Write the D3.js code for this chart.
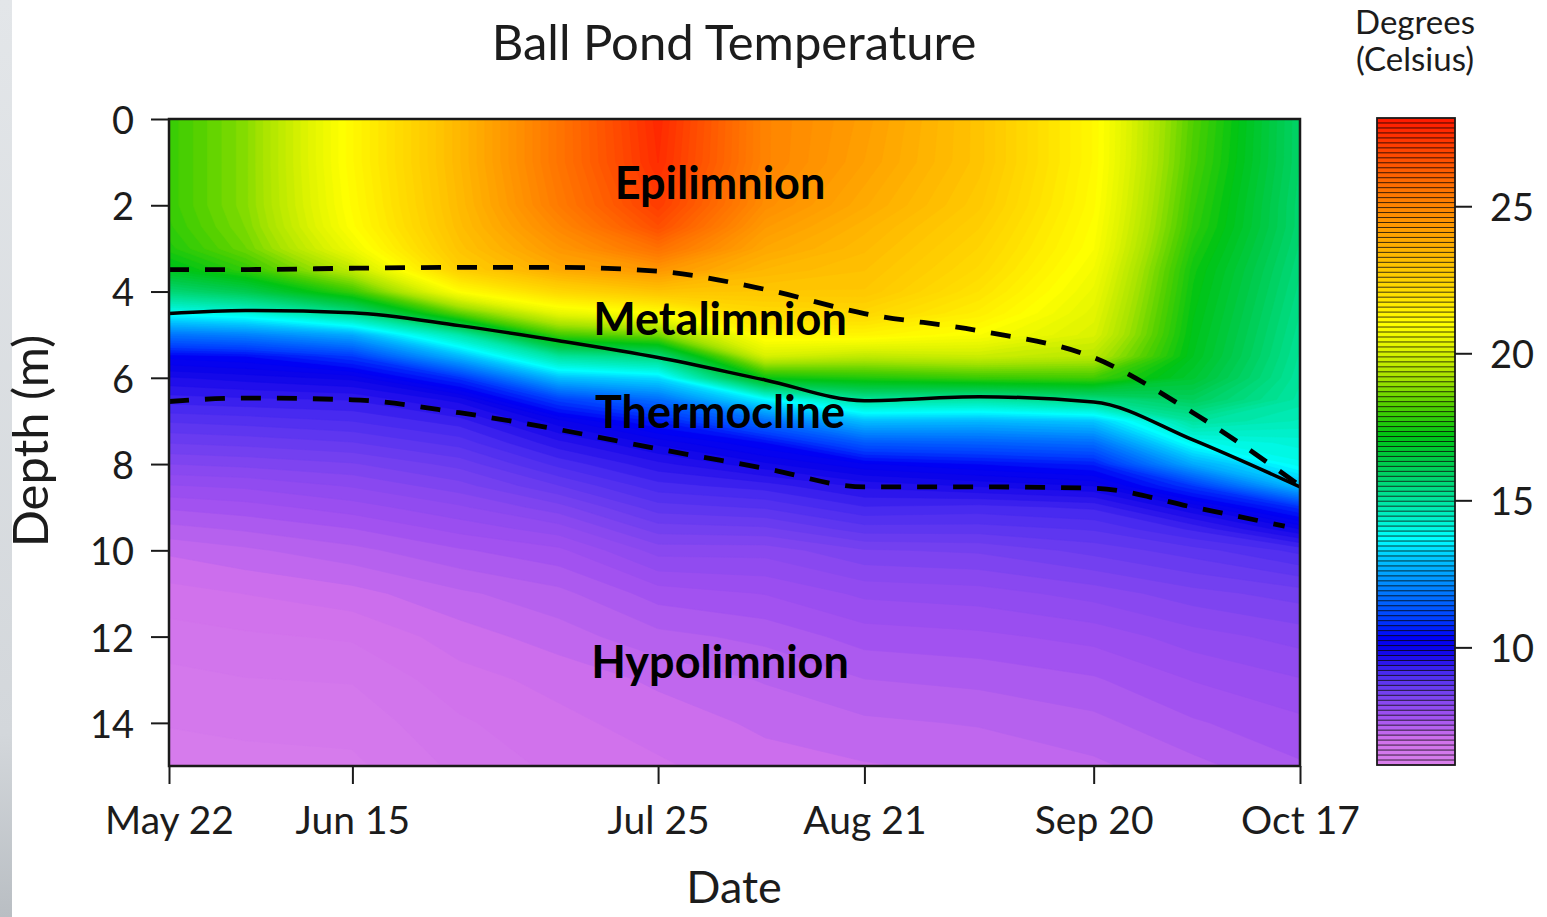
<!DOCTYPE html>
<html>
<head>
<meta charset="utf-8">
<script src="https://cdn.jsdelivr.net/npm/d3@7"></script>
<style>
  body { margin: 0; background: #ffffff; }
  svg { display: block; }
  text { font-family: Lato, "Open Sans", "DejaVu Sans", sans-serif; fill: #1c1c1c; }
</style>
</head>
<body>
<svg id="chart" width="1547" height="917"></svg>
<script>
// ---------------- DATA ----------------
// sampling dates (columns of the temperature field)
const sampleDates = ["2019-05-22","2019-06-01","2019-06-15","2019-06-29","2019-07-12","2019-07-25",
                     "2019-08-08","2019-08-21","2019-09-05","2019-09-20","2019-10-03","2019-10-17"];
// depths (m) (rows of the temperature field)
const depths = [0, 1, 2, 2.5, 3, 3.5, 4, 4.5, 5, 5.5, 6, 6.5, 7, 7.5, 8, 8.5, 9, 9.5, 10, 11, 12, 13, 14, 15];

// temperature profiles (°C), one per date, top to bottom
const tempMay22 = [17.9,17.9,17.9,17.8,17.6,17.0,15.6,13.8,11.8,10.3,9.7,9.3,8.9,8.55,8.2,7.85,7.55,7.3,7.05,6.78,6.6,6.45,6.35,6.25];
const tempJun01 = [18.8,18.8,18.8,18.7,18.5,17.8,16.2,14.1,12.0,10.4,9.8,9.35,8.95,8.6,8.25,7.9,7.62,7.38,7.15,6.85,6.65,6.5,6.38,6.28];
const tempJun15 = [21.2,21.2,21.1,21.0,20.6,19.6,17.9,15.3,12.6,10.9,9.95,9.4,9.05,8.7,8.35,8.05,7.78,7.52,7.3,6.95,6.7,6.52,6.4,6.3];
const tempJun29 = [23.4,23.4,23.3,23.2,23.0,22.6,21.0,18.3,14.8,12.8,10.8,9.8,9.3,8.95,8.6,8.3,8.0,7.75,7.5,7.15,6.93,6.78,6.65,6.55];
const tempJul12 = [25.5,25.5,25.3,24.9,24.4,23.8,22.3,20.4,18.0,15.0,12.9,11.0,10.0,9.5,9.1,8.7,8.3,7.95,7.65,7.3,7.1,6.9,6.8,6.72];
const tempJul25 = [27.6,27.5,27.1,26.6,25.6,24.4,23.0,21.0,18.6,15.5,13.3,11.7,10.6,9.95,9.5,9.15,8.8,8.45,8.1,7.6,7.3,7.05,6.92,6.82];
const tempAug08 = [25.0,25.0,24.7,24.3,23.9,23.4,22.9,22.2,21.3,20.0,17.3,13.6,11.7,10.4,9.85,9.3,8.9,8.5,8.1,7.7,7.4,7.2,7.05,6.95];
const tempAug21 = [24.2,24.1,23.8,23.5,23.3,23.1,22.9,22.3,21.3,19.6,17.6,15.0,12.9,11.4,10.2,9.6,9.2,8.8,8.35,7.9,7.6,7.35,7.15,7.0];
const tempSep05 = [23.0,23.0,22.8,22.6,22.4,22.2,21.9,21.5,20.9,19.8,17.9,14.9,12.8,11.5,10.4,9.75,9.15,8.8,8.4,7.95,7.65,7.4,7.2,7.05];
const tempSep20 = [21.2,21.2,21.1,21.0,20.9,20.7,20.5,20.3,20.1,19.5,18.0,15.4,13.0,11.7,10.6,9.9,9.25,8.9,8.6,8.1,7.75,7.5,7.3,7.15];
const tempOct03 = [18.2,18.1,17.9,17.8,17.6,17.4,17.3,17.2,17.1,17.0,16.7,16.0,15.0,13.9,12.6,10.9,9.9,9.25,8.8,8.3,7.95,7.7,7.5,7.3];
const tempOct17 = [15.8,15.8,15.7,15.7,15.6,15.5,15.4,15.3,15.2,15.1,15.0,14.9,14.6,14.2,13.9,12.9,10.8,9.9,9.1,8.45,8.1,7.85,7.65,7.5];
const profiles = [tempMay22,tempJun01,tempJun15,tempJun29,tempJul12,tempJul25,
                  tempAug08,tempAug21,tempSep05,tempSep20,tempOct03,tempOct17];

// layer boundary depths (m)
const lineDates      = ["2019-05-22","2019-06-01","2019-06-15","2019-06-29","2019-07-12","2019-07-25",
                        "2019-08-08","2019-08-21","2019-09-05","2019-09-20","2019-10-03","2019-10-17"];
const upperMetaDepth = [3.49,3.49,3.46,3.44,3.44,3.53,3.95,4.51,4.91,5.53,6.81,8.5];
const thermoDepth    = [4.51,4.44,4.49,4.79,5.14,5.53,6.05,6.53,6.44,6.56,7.44,8.53];
const lowerLineDates = ["2019-05-22","2019-06-01","2019-06-15","2019-06-29","2019-07-12","2019-07-25",
                        "2019-08-08","2019-08-21","2019-09-05","2019-09-20","2019-10-03","2019-10-15"];
const lowerMetaDepth = [6.55,6.47,6.51,6.81,7.2,7.65,8.1,8.53,8.53,8.56,9.0,9.44];

// axis ticks
const dateTicks  = ["2019-05-22","2019-06-15","2019-07-25","2019-08-21","2019-09-20","2019-10-17"];
const depthTicks = [0, 2, 4, 6, 8, 10, 12, 14];
const tempTicks  = [10, 15, 20, 25];

// layer names
const layerNames  = ["Epilimnion","Metalimnion","Thermocline","Hypolimnion"];
const layerDepths = [1.5, 4.65, 6.8, 12.6];

// colour palette (temperature -> colour)
const paletteTemps  = [6.0, 6.4, 6.85, 7.0, 7.15, 7.3, 7.6, 8.1, 8.6, 9.1, 9.5, 9.9, 10.3, 11.0, 12.0, 13.0, 13.7, 14.4, 15.2, 16.2, 17.2, 18.2, 19.2, 20.2, 21.0, 22.0, 23.0, 24.0, 25.0, 26.0, 27.0, 28.0];
const paletteColors = ["#da80ec","#d478ec","#d070ec","#c86cee","#bc64ee","#b460ee","#a252f0","#8a48f0","#6a3cf0","#4a2cf0","#2a14ec","#0c04e8","#0000f4","#0040ff","#0080ff","#00c4ff","#00ffff","#00f0c8","#00e090","#00cc50","#00c414","#50d000","#a8e400","#e0f400","#ffff00","#ffe000","#ffc400","#ffa400","#ff8400","#ff6400","#ff4000","#ff1800"];
const tempMin = 6, tempMax = 28, nLevels = 130;

// ---------------- CHART ----------------
const svg = d3.select("#chart");
const parse = d3.timeParse("%Y-%m-%d");
const fmt = d3.timeFormat("%b %-d");

const x = d3.scaleTime().domain([parse("2019-05-22"), parse("2019-10-17")]).range([169, 1300]);
const y = d3.scaleLinear().domain([0, 15]).range([119, 766]);
const color = d3.scaleLinear().domain(paletteTemps).range(paletteColors).interpolate(d3.interpolateRgb).clamp(true);

// left page strip (slide background)
const defs = svg.append("defs");
const lg = defs.append("linearGradient").attr("id","strip").attr("x1",0).attr("y1",0).attr("x2",0).attr("y2",1);
lg.append("stop").attr("offset","0%").attr("stop-color","#e3e6e9");
lg.append("stop").attr("offset","80%").attr("stop-color","#d3d7db");
lg.append("stop").attr("offset","100%").attr("stop-color","#b9bec3");
svg.append("rect").attr("x",0).attr("y",0).attr("width",12).attr("height",917).attr("fill","url(#strip)");

// temperature field through d3.contours
const nx = sampleDates.length, ny = depths.length;
const values = new Array(nx * ny);
for (let j = 0; j < ny; j++) for (let i = 0; i < nx; i++) values[j * nx + i] = profiles[i][j];
const step = (tempMax - tempMin) / nLevels;
const thresholds = d3.range(nLevels).map(k => tempMin + k * step);
const contours = d3.contours().size([nx, ny]).thresholds(thresholds)(values);

const idxToDate = d3.scaleLinear().domain(d3.range(nx)).range(sampleDates.map(s => +parse(s)));
const idxToDepth = d3.scaleLinear().domain(d3.range(ny)).range(depths);
const gx = c => x(new Date(idxToDate(Math.max(0, Math.min(nx - 1, c - 0.5)))));
const gy = c => y(idxToDepth(Math.max(0, Math.min(ny - 1, c - 0.5))));
const proj = d3.geoTransform({ point: function(px, py) { this.stream.point(gx(px), gy(py)); } });
const cpath = d3.geoPath(proj);

defs.append("clipPath").attr("id","plotclip")
  .append("rect").attr("x", x.range()[0]).attr("y", y(0)).attr("width", x.range()[1]-x.range()[0]).attr("height", y(15)-y(0));

const field = svg.append("g").attr("clip-path","url(#plotclip)");
field.selectAll("path").data(contours).join("path")
  .attr("d", cpath)
  .attr("fill", d => color(d.value + step / 2))
  .attr("stroke", d => color(d.value + step / 2))
  .attr("stroke-width", 0.6);

// layer lines
const depthLine = d3.line().curve(d3.curveMonotoneX).x(d => x(parse(d.date))).y(d => y(d.depth));
const lg1 = lineDates.map((d, i) => ({date: d, depth: upperMetaDepth[i]}));
const lg2 = lineDates.map((d, i) => ({date: d, depth: thermoDepth[i]}));
const lg3 = lowerLineDates.map((d, i) => ({date: d, depth: lowerMetaDepth[i]}));
const lines = svg.append("g").attr("clip-path","url(#plotclip)");
lines.append("path").attr("d", depthLine(lg1)).attr("fill","none").attr("stroke","#000").attr("stroke-width",4.8).attr("stroke-dasharray","20,16");
lines.append("path").attr("d", depthLine(lg2)).attr("fill","none").attr("stroke","#000").attr("stroke-width",3.5);
lines.append("path").attr("d", depthLine(lg3)).attr("fill","none").attr("stroke","#000").attr("stroke-width",4.8).attr("stroke-dasharray","20,16");

// plot frame
svg.append("rect").attr("x", x.range()[0]).attr("y", y(0)).attr("width", x.range()[1]-x.range()[0]).attr("height", y(15)-y(0))
  .attr("fill","none").attr("stroke","#1a1a1a").attr("stroke-width",2.5);

// region labels
const labelG = svg.append("g");
layerNames.forEach((t, i) => {
  labelG.append("text").attr("x", 720).attr("y", y(layerDepths[i])).attr("dy","0.35em").attr("text-anchor","middle")
    .style("font-size","45px").style("font-weight","700").style("fill","#000").text(t);
});

// axes
const xAxis = d3.axisBottom(x).tickValues(dateTicks.map(parse)).tickFormat(fmt).tickSize(18).tickPadding(22);
const gxA = svg.append("g").attr("transform", `translate(0,${y(15)})`).call(xAxis);
gxA.select(".domain").remove();
gxA.selectAll(".tick line").attr("stroke","#1a1a1a").attr("stroke-width",2);
gxA.selectAll(".tick text").style("font-size","39px").style("font-family","Lato, sans-serif").attr("fill","#1c1c1c");

const yAxis = d3.axisLeft(y).tickValues(depthTicks).tickFormat(d3.format("d")).tickSize(18).tickPadding(17);
const gyA = svg.append("g").attr("transform", `translate(${x.range()[0]},0)`).call(yAxis);
gyA.select(".domain").remove();
gyA.selectAll(".tick line").attr("stroke","#1a1a1a").attr("stroke-width",2);
gyA.selectAll(".tick text").style("font-size","38px").style("font-family","Lato, sans-serif").attr("fill","#1c1c1c").attr("dy","0.38em");

// titles
svg.append("text").attr("x", 734).attr("y", 60).attr("text-anchor","middle").style("font-size","49px").text("Ball Pond Temperature");
svg.append("text").attr("x", 734).attr("y", 903).attr("text-anchor","middle").style("font-size","45px").text("Date");
svg.append("text").attr("transform","translate(48,441) rotate(-90)").attr("text-anchor","middle").style("font-size","49px").text("Depth (m)");

// colour bar
const cb = {x: 1377, w: 78};
const cy = d3.scaleLinear().domain([tempMin, tempMax]).range([765, 118]);
const cbar = svg.append("g");
cbar.selectAll("rect.band").data(thresholds).join("rect").attr("class","band")
  .attr("x", cb.x).attr("width", cb.w)
  .attr("y", d => cy(d + step)).attr("height", d => cy(d) - cy(d + step) + 0.3)
  .attr("fill", d => color(d + step / 2));
cbar.selectAll("line.sep").data(thresholds.slice(1)).join("line").attr("class","sep")
  .attr("x1", cb.x).attr("x2", cb.x + cb.w).attr("y1", d => cy(d)).attr("y2", d => cy(d))
  .attr("stroke","#000").attr("stroke-opacity",0.75).attr("stroke-width",1);
cbar.append("rect").attr("x", cb.x).attr("y", cy(tempMax)).attr("width", cb.w).attr("height", cy(tempMin) - cy(tempMax))
  .attr("fill","none").attr("stroke","#1a1a1a").attr("stroke-width",1.8);
const cAxis = d3.axisRight(cy).tickValues(tempTicks).tickSize(17).tickPadding(18);
const gc = svg.append("g").attr("transform", `translate(${cb.x + cb.w},0)`).call(cAxis);
gc.select(".domain").remove();
gc.selectAll(".tick line").attr("stroke","#1a1a1a").attr("stroke-width",2);
gc.selectAll(".tick text").style("font-size","38px").style("font-family","Lato, sans-serif").attr("fill","#1c1c1c").attr("dy","0.38em");

svg.append("text").attr("x", 1415).attr("y", 34).attr("text-anchor","middle").style("font-size","33px").text("Degrees");
svg.append("text").attr("x", 1415).attr("y", 71).attr("text-anchor","middle").style("font-size","33px").text("(Celsius)");
</script>
</body>
</html>
